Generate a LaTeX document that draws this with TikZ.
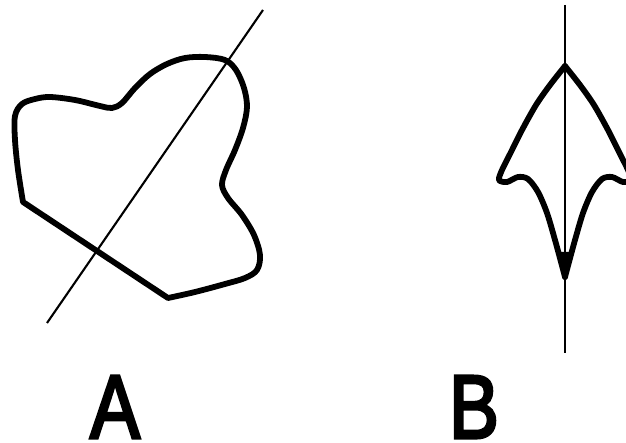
\documentclass[tikz,border=0pt]{standalone}
\usepackage{fontspec}
\setmainfont{Liberation Sans}
\newfontfamily\lblfont{Liberation Sans}[FakeBold=3.5]
\begin{document}
\begin{tikzpicture}[x=1pt,y=-1pt,
  outline/.style={line width=5.8pt,line join=round,line cap=round},
  axisline/.style={line width=2.1pt},
  letter/.style={inner sep=0pt,anchor=base,font=\lblfont\fontsize{90}{90}\selectfont,xscale=0.83,transform shape}]
\useasboundingbox (0,0) rectangle (626,443);
% shape A
\draw[outline] plot[smooth,tension=0.55] coordinates {
 (23,202) (18,170) (15,140) (15,116) (22,104) (35,99) (50,97) (75,100) (100,106) (112,108)
 (122,103) (135,88) (150,74) (167,64) (185,58) (205,57) (225,60) (236,70) (244,88)
 (247,107) (243,128) (235,150) (226,170) (222,185) (228,198) (242,215) (254,235)
 (260,255) (257,270) (245,278) (225,284) (195,292) (168,298)} -- cycle;
\coordinate (a1) at (47,323);
\coordinate (a2) at (263,10);
\draw[axisline] (a1) -- (a2);
% shape B
\draw[outline] plot[smooth,tension=0.5] coordinates {
 (565,66) (550,85) (536,105) (522,130) (511,152) (502,170) (499,180) (507,182) (518,177) (528,179)
 (538,192) (547,213) (555,240) (561,262) (565,277)};
\draw[outline] plot[smooth,tension=0.5] coordinates {
 (565,66) (580,85) (594,105) (608,130) (619,152) (628,170) (631,180) (623,182) (612,177) (602,179)
 (592,192) (583,213) (575,240) (569,262) (565,277)};
\fill (559,252) -- (571,252) -- (565,280) -- cycle;
\coordinate (b1) at (565,5);
\coordinate (b2) at (565,353);
\draw[axisline] (b1) -- (b2);
% labels
\node[letter] (la) at (115,438) {A};
\node[letter] (lb) at (474,438) {B};
\end{tikzpicture}
\end{document}
